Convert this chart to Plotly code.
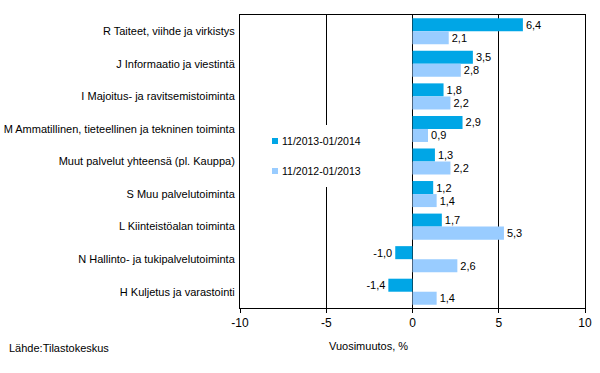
import plotly.graph_objects as go

categories = [
    "R Taiteet, viihde ja virkistys",
    "J Informaatio ja viestintä",
    "I Majoitus- ja ravitsemistoiminta",
    "M Ammatillinen, tieteellinen ja tekninen toiminta",
    "Muut palvelut yhteensä (pl. Kauppa)",
    "S Muu palvelutoiminta",
    "L Kiinteistöalan toiminta",
    "N Hallinto- ja tukipalvelutoiminta",
    "H Kuljetus ja varastointi",
]
series_2014 = [6.4, 3.5, 1.8, 2.9, 1.3, 1.2, 1.7, -1.0, -1.4]
series_2013 = [2.1, 2.8, 2.2, 0.9, 2.2, 1.4, 5.3, 2.6, 1.4]
name_2014 = "11/2013-01/2014"
name_2013 = "11/2012-01/2013"
x_ticks = [-10, -5, 0, 5, 10]

C_DARK = "#00A6E6"
C_LIGHT = "#99CCFF"

def fmt(v):
    return f"{v:.1f}".replace(".", ",")

font = "Liberation Sans, Arial, sans-serif"

W, H = 600, 373
ML, MR, MT, MB = 240, 15, 15, 65
pw, ph = W - ML - MR, H - MT - MB

def px(xp):
    return (xp - ML) / pw

def py(yp):
    return (H - MB - yp) / ph

fig = go.Figure()
fig.add_trace(go.Bar(
    y=categories, x=series_2014, orientation="h", name=name_2014,
    marker=dict(color=C_DARK, line=dict(width=0)),
    text=[fmt(v) for v in series_2014], textposition="outside",
    textfont=dict(size=11, color="black", family=font),
    cliponaxis=False, showlegend=False,
))
fig.add_trace(go.Bar(
    y=categories, x=series_2013, orientation="h", name=name_2013,
    marker=dict(color=C_LIGHT, line=dict(width=0)),
    text=[fmt(v) for v in series_2013], textposition="outside",
    textfont=dict(size=11, color="black", family=font),
    cliponaxis=False, showlegend=False,
))

shapes = [
    # legend background box (interrupts gridline)
    dict(type="rect", xref="paper", yref="paper", layer="above",
         x0=px(265), x1=px(368), y0=py(187), y1=py(125),
         fillcolor="white", line=dict(width=0)),
    dict(type="rect", xref="paper", yref="paper", layer="above",
         x0=px(272), x1=px(278), y0=py(144), y1=py(138),
         fillcolor=C_DARK, line=dict(width=0)),
    dict(type="rect", xref="paper", yref="paper", layer="above",
         x0=px(272), x1=px(278), y0=py(174), y1=py(168),
         fillcolor=C_LIGHT, line=dict(width=0)),
]

annotations = [
    dict(text=name_2014, x=px(280), y=py(141), xref="paper", yref="paper",
         xanchor="left", yanchor="middle", showarrow=False,
         font=dict(size=10.5, family=font)),
    dict(text=name_2013, x=px(280), y=py(171), xref="paper", yref="paper",
         xanchor="left", yanchor="middle", showarrow=False,
         font=dict(size=10.5, family=font)),
    dict(text="Vuosimuutos, %", x=px(327), y=py(346), xref="paper", yref="paper",
         xanchor="left", yanchor="middle", showarrow=False,
         font=dict(size=11, family=font)),
    dict(text="Lähde:Tilastokeskus", x=px(7), y=py(348), xref="paper", yref="paper",
         xanchor="left", yanchor="middle", showarrow=False,
         font=dict(size=11, family=font)),
]

fig.update_layout(
    width=W, height=H,
    margin=dict(l=ML, r=MR, t=MT, b=MB),
    paper_bgcolor="white", plot_bgcolor="white",
    font=dict(family=font, size=11, color="black"),
    barmode="group", bargap=0.2, bargroupgap=0,
    showlegend=False,
    hovermode=False,
    xaxis=dict(
        range=[-10, 10], tickvals=x_ticks, ticktext=[str(t) for t in x_ticks],
        showgrid=True, gridcolor="black", gridwidth=1,
        zeroline=True, zerolinecolor="black", zerolinewidth=1,
        showline=True, linecolor="black", linewidth=1, mirror=True,
        ticks="outside", ticklen=4, tickcolor="black",
        tickfont=dict(size=12, family=font), automargin=False,
    ),
    yaxis=dict(
        autorange="reversed", showgrid=False,
        showline=True, linecolor="black", linewidth=1, mirror=True,
        ticks="", ticklabelstandoff=2, automargin=False,
        tickfont=dict(size=11, family=font),
    ),
    shapes=shapes,
    annotations=annotations,
)

fig.write_html("out.html", config={"displayModeBar": False, "staticPlot": True},
               post_script="document.body.style.margin='0';")
